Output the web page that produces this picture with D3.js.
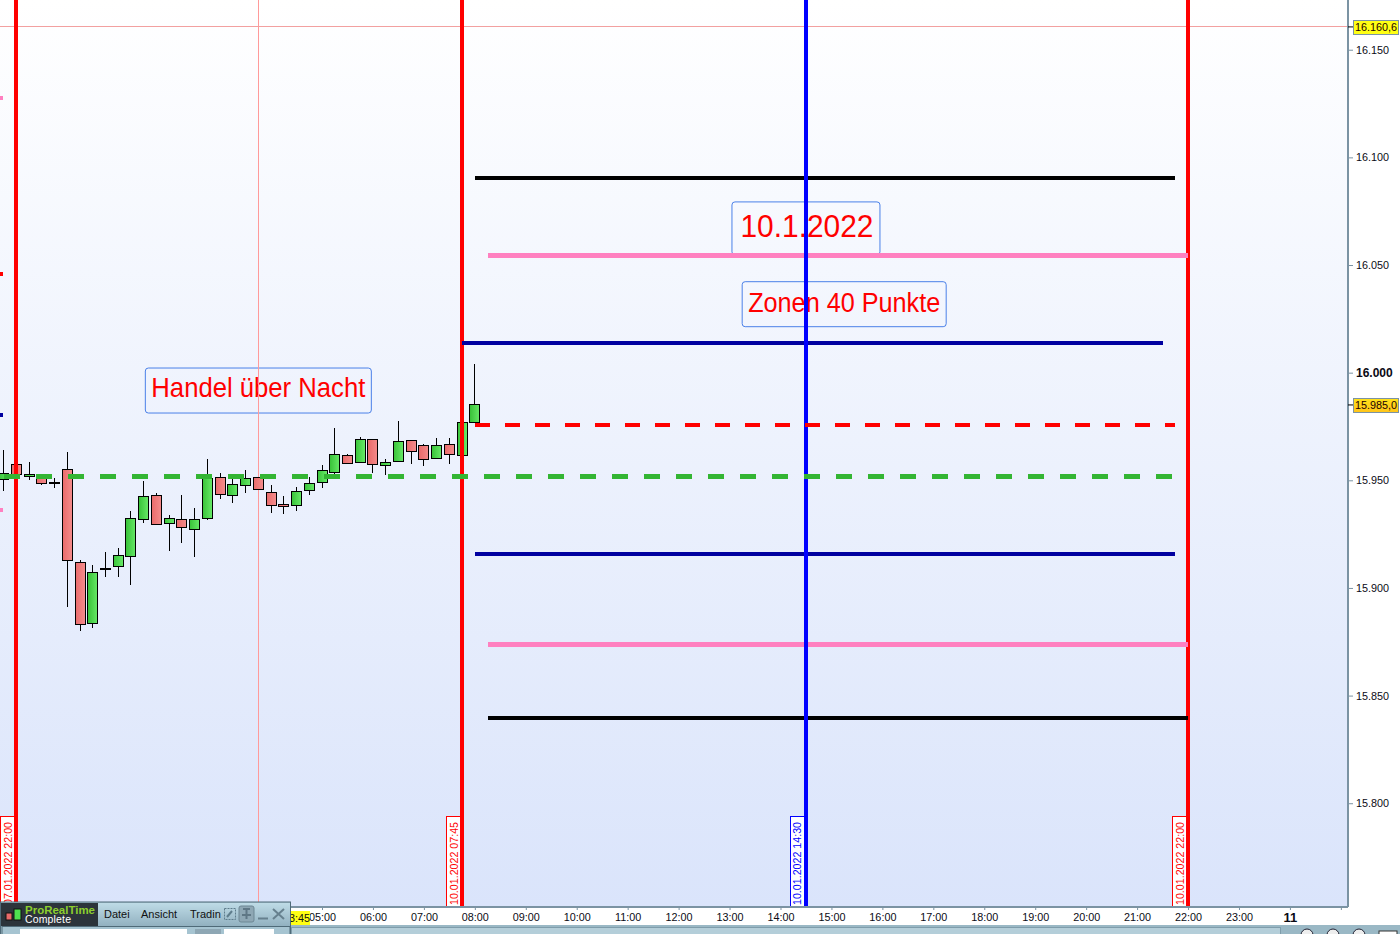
<!DOCTYPE html>
<html><head><meta charset="utf-8">
<script src="https://cdnjs.cloudflare.com/ajax/libs/d3/7.8.5/d3.min.js"></script>
<style>html,body{margin:0;padding:0;background:#fff;overflow:hidden}svg{display:block;font-family:"Liberation Sans",Arial,sans-serif}</style>
</head><body><svg id="c" width="1400" height="934"></svg>
<script>
// Candle times, in hours relative to 10.01.2022 00:00 (15-minute bars)
const hours = [-1.25,-1,-0.75,-0.5,-0.25,0,0.25,0.5,0.75,1,1.25,1.5,1.75,2,2.25,2.5,2.75,3,3.25,3.5,3.75,4,4.25,4.5,4.75,5,5.25,5.5,5.75,6,6.25,6.5,6.75,7,7.25,7.5,7.75,8];
const opens  = [15950.5,15957.5,15951.7,15951.6,15948.9,15955.1,15911.9,15883.6,15908.9,15910.1,15914.7,15931.9,15943.1,15929.9,15931.9,15927.3,15932.4,15951.4,15943.1,15947.7,15951.4,15944.4,15938.9,15938.4,15945.4,15949.1,15953.7,15961.6,15958.4,15969.1,15957,15958.8,15968.6,15966.3,15960.2,15966.7,15961.6,15977];
const closes = [15953.3,15952.6,15952.8,15948.4,15948.7,15912.9,15883.1,15907.3,15908.7,15915.2,15932.4,15942.6,15929.4,15932.4,15928.2,15931.9,15950.9,15943.5,15948.2,15950.9,15945.8,15938.4,15937.8,15944.9,15948.6,15954.7,15962.1,15957.9,15969.1,15957.5,15958.4,15968.1,15963.5,15959.8,15966.3,15962.1,15977,15985];
const highs  = [15964.1,15957.5,15958.5,15951.6,15951.1,15963,15912.9,15910.7,15916.7,15918.6,15935.8,15949.7,15944,15933.9,15943.2,15937,15959.9,15953.4,15950.6,15954.7,15951.4,15947.8,15942.7,15946.9,15951.6,15957,15974.3,15962.2,15970,15969.1,15959.8,15977.6,15968.6,15966.7,15969.5,15969.5,15977,16004];
const lows   = [15945.2,15952.6,15950.2,15947.8,15946.4,15891.3,15880.2,15881.6,15905.1,15905.1,15901.4,15930.3,15929.1,15917.3,15921,15914.5,15931.7,15941.5,15939.6,15944.3,15945.8,15935,15934.5,15935.9,15943.3,15946.6,15952.8,15957.9,15958.4,15953.6,15952.6,15958.8,15957.7,15956.8,15960.2,15957.7,15961.6,15977];

// Solid horizontal zones: price, from hour, to hour
const zonePrices = [16090.4,16054.6,16013.8,15915.8,15873.8,15839.4];
const zoneStart  = [8,8.25,7.75,8,8.25,8.25];
const zoneEnd    = [21.75,22,21.5,21.75,22,22];
const zoneColors = ["#000000","#ff80c0","#0000a0","#0000a0","#ff80c0","#000000"];
const zoneWidths = [4,5,4,4,5,4];
// Dashed horizontal levels
const levelPrices = [15975.7,15951.7];
const levelStart  = [8,-1.25];
const levelEnd    = [21.75,22];
const levelColors = ["#ff0000","#33b533"];
const levelWidths = [4,5];
const levelDashes = ["15 15","16 16"];

// Vertical session lines
const vHours  = [-1,7.75,14.5,22];
const vColors = ["#ff0000","#ff0000","#0000ff","#ff0000"];
const vLabels = ["07.01.2022 22:00","10.01.2022 07:45","10.01.2022 14:30","10.01.2022 22:00"];

// Annotations
const noteTexts = ["Handel über Nacht","10.1.2022","Zonen 40 Punkte"];
const noteHours = [3.75,14.5,15.25];
const notePrices= [15991.7,16067,16031.8];

// Axis values
const priceTicks = [16150,16100,16050,16000,15950,15900,15850,15800];
const timeTicks = [5,6,7,8,9,10,11,12,13,14,15,16,17,18,19,20,21,22,23,24,25];
const timeLabels = ["05:00","06:00","07:00","08:00","09:00","10:00","11:00","12:00","13:00","14:00","15:00","16:00","17:00","18:00","19:00","20:00","21:00","22:00","23:00","11",""];
const crossHour = 3.75, crossPrice = 16160.6, lastPrice = 15985;
const edgePrices = [16127.6,16045.8,15980.4,15936];
const edgeColors = ["#ff80c0","#ff0000","#0000a0","#ff80c0"];

const svg = d3.select("#c");
const plotW = 1348, plotH = 907;
const x = d3.scaleLinear().domain([-1.321,25.14]).range([0,plotW]);
const y = d3.scaleLinear().domain([16173.1,15751.8]).range([0,plotH]);
const defs = svg.append("defs");
function grad(id,x2,y2,stops){
  const g = defs.append("linearGradient").attr("id",id).attr("x1",0).attr("y1",0).attr("x2",x2).attr("y2",y2);
  stops.forEach((c,i)=>g.append("stop").attr("offset",i/(stops.length-1)).attr("stop-color",c));
}
grad("bg",0,1,["#ffffff","#dae4fb"]);
grad("up",1,0,["#38c238","#68ea68"]);
grad("down",1,0,["#e96a6a","#f48c8c"]);
grad("gold",0,1,["#ffe21a","#ffc41a"]);
grad("menu",0,1,["#bedbe6","#92b1c0"]);
defs.append("clipPath").attr("id","plot").append("rect").attr("width",plotW).attr("height",plotH);

svg.append("rect").attr("width",plotW).attr("height",plotH).attr("fill","url(#bg)");
const plot = svg.append("g").attr("clip-path","url(#plot)");

// annotation boxes: width, height, font size, text width, baseline offset
const noteSizes = [[226,45,27.5,214,6.6],[148,53,31,133,8.6],[204,45,27.5,192,7.4]];
const notes = plot.append("g");
noteTexts.forEach((t,i)=>{
  const [w,h,f,tw,off]=noteSizes[i];
  const cx=x(noteHours[i]), cy=y(notePrices[i]);
  notes.append("rect").attr("x",cx-w/2).attr("y",cy-h/2).attr("width",w).attr("height",h).attr("rx",3)
    .attr("fill","none").attr("stroke","#4a80e8").attr("stroke-width",1);
  notes.append("text").attr("x",cx+[0,1,0][i]).attr("y",cy+off).attr("text-anchor","middle").attr("font-size",f)
    .attr("textLength",tw).attr("lengthAdjust","spacingAndGlyphs").attr("fill","#ff0000").text(t);
});

// crosshair
plot.append("line").attr("x1",x(crossHour)).attr("x2",x(crossHour)).attr("y1",0).attr("y2",plotH).attr("stroke","#ff9a9a").attr("stroke-width",1).attr("shape-rendering","crispEdges");
plot.append("line").attr("x1",0).attr("x2",plotW).attr("y1",y(crossPrice)).attr("y2",y(crossPrice)).attr("stroke","#f2a0a0").attr("stroke-width",1).attr("shape-rendering","crispEdges");

// candles
const bw = 10;
const cg = plot.append("g").attr("shape-rendering","crispEdges");
const idx = d3.range(hours.length);
cg.selectAll("line.w").data(idx).join("line").attr("class","w")
  .attr("x1",i=>x(hours[i])).attr("x2",i=>x(hours[i])).attr("y1",i=>y(highs[i])).attr("y2",i=>y(lows[i]))
  .attr("stroke","#000").attr("stroke-width",1);
cg.selectAll("rect").data(idx).join("rect")
  .attr("x",i=>x(hours[i])-bw/2)
  .attr("y",i=>y(Math.max(opens[i],closes[i])))
  .attr("width",bw)
  .attr("height",i=>Math.abs(y(opens[i])-y(closes[i])))
  .attr("fill",i=>closes[i]>=opens[i]?"url(#up)":"url(#down)")
  .attr("stroke","#000").attr("stroke-width",1);

// vertical lines and date boxes
const vline = (sel,keep)=>sel.append("g").attr("shape-rendering","crispEdges").selectAll("line").data(vHours.filter((d,i)=>keep(vColors[i]))).join("line")
  .attr("x1",d=>x(d)).attr("x2",d=>x(d)).attr("y1",0).attr("y2",plotH)
  .attr("stroke",d=>vColors[vHours.indexOf(d)]).attr("stroke-width",4);
vline(plot,c=>c==="#ff0000");

// zones
plot.append("g").attr("shape-rendering","crispEdges").selectAll("line").data(zonePrices).join("line")
  .attr("x1",(d,i)=>x(zoneStart[i])).attr("x2",(d,i)=>x(zoneEnd[i]))
  .attr("y1",d=>y(d)).attr("y2",d=>y(d))
  .attr("stroke",(d,i)=>zoneColors[i]).attr("stroke-width",(d,i)=>zoneWidths[i]);

vline(plot,c=>c==="#0000ff");

// dashed levels
plot.append("g").attr("shape-rendering","crispEdges").selectAll("line").data(levelPrices).join("line")
  .attr("x1",(d,i)=>x(levelStart[i])).attr("x2",(d,i)=>x(levelEnd[i]))
  .attr("y1",d=>y(d)).attr("y2",d=>y(d))
  .attr("stroke",(d,i)=>levelColors[i]).attr("stroke-width",(d,i)=>levelWidths[i])
  .attr("stroke-dasharray",(d,i)=>levelDashes[i]);

vHours.forEach((h,i)=>{
  const cx=x(h)-9;
  plot.append("rect").attr("x",Math.round(cx-7)+0.5).attr("y",816.5).attr("width",14).attr("height",91).attr("fill","#fff").attr("stroke",vColors[i]);
  plot.append("text").attr("transform",`translate(${cx+4.5},905) rotate(-90)`).attr("font-size",11)
    .attr("textLength",83).attr("lengthAdjust","spacingAndGlyphs").attr("fill",vColors[i]).text(vLabels[i]);
});

// edge ticks
plot.append("g").attr("shape-rendering","crispEdges").selectAll("rect").data(edgePrices).join("rect")
  .attr("x",0).attr("width",3).attr("y",d=>y(d)-2).attr("height",4).attr("fill",(d,i)=>edgeColors[i]);

// axes
const slate="#7b93a3";
const ay = svg.append("g").attr("transform",`translate(${plotW},0)`)
  .call(d3.axisRight(y).tickValues(priceTicks).tickSize(5).tickPadding(3).tickFormat(d=>d3.format(",")(d).replace(",",".")));
ay.select(".domain").attr("stroke",slate).attr("stroke-width",2).attr("d",`M0,0V${plotH}`);
ay.selectAll(".tick line").attr("stroke",slate);
ay.selectAll(".tick text").attr("font-size",d=>d===16000?12:10.8).attr("font-weight",d=>d===16000?"bold":"normal").attr("fill","#0a0a14").attr("font-family","Liberation Sans");
const ax = svg.append("g").attr("transform",`translate(0,${plotH})`)
  .call(d3.axisBottom(x).tickValues(timeTicks).tickSize(3).tickPadding(3).tickFormat((d,i)=>timeLabels[i]));
ax.select(".domain").attr("stroke",slate).attr("stroke-width",2).attr("d",`M0,0H${plotW}`);
ax.selectAll(".tick line").attr("stroke",slate);
ax.selectAll(".tick text").attr("font-size",d=>d===24?13:10.8).attr("font-weight",d=>d===24?"bold":"normal").attr("fill","#0a0a14").attr("font-family","Liberation Sans");

// price flags
function flag(p,fill){
  const yy=y(p);
  svg.append("line").attr("x1",plotW).attr("x2",plotW+5).attr("y1",yy).attr("y2",yy).attr("stroke","#000");
  svg.append("rect").attr("x",1353.5).attr("y",Math.round(yy-7)+0.5).attr("width",45).attr("height",14).attr("fill",fill).attr("stroke",slate);
  svg.append("text").attr("x",1376).attr("y",yy+4).attr("text-anchor","middle").attr("font-size",10.8).attr("fill","#200").text(d3.format(",.1f")(p).replace(",",".").replace(/\.(\d)$/,",$1"));
}
flag(crossPrice,"#ffff14");
flag(lastPrice,"url(#gold)");

// time flag of the crosshair
svg.append("rect").attr("x",290).attr("y",911).attr("width",20).attr("height",14).attr("fill","#ffff14");
svg.append("text").attr("x",310).attr("y",922).attr("text-anchor","end").attr("font-size",10.8).attr("fill","#111").text("03:45");

// bottom toolbar
svg.append("rect").attr("x",0).attr("y",925).attr("width",1400).attr("height",9).attr("fill","#9ab8c5");
svg.append("rect").attr("x",291.5).attr("y",927.5).attr("width",989).attr("height",7).attr("fill","#b4ced9").attr("stroke","#7f9dab");
[1307,1333,1359].forEach(c=>svg.append("circle").attr("cx",c).attr("cy",935).attr("r",6).attr("fill","#eee").attr("stroke","#223"));
svg.append("rect").attr("x",1379).attr("y",931).attr("width",18).attr("height",5).attr("fill","#fff").attr("stroke","#333");

// window overlay
const win = svg.append("g");
win.append("rect").attr("x",0.5).attr("y",902).attr("width",290).attr("height",33).attr("fill","#a6c4d1").attr("stroke","#4f6a78");
win.append("rect").attr("x",1).attr("y",903).attr("width",289).attr("height",23).attr("fill","url(#menu)");
win.append("rect").attr("x",1).attr("y",903).attr("width",97).attr("height",23).attr("fill","#2c343b");
win.append("rect").attr("x",6).attr("y",913).attr("width",6).attr("height",7).attr("fill","#e86a6a").attr("stroke","#111");
win.append("rect").attr("x",14).attr("y",909).attr("width",7).attr("height",11).attr("fill","#4fe04f").attr("stroke","#111");
win.append("text").attr("x",25).attr("y",913.5).attr("font-size",11.5).attr("fill","#8ccf2e").attr("font-weight","bold").attr("textLength",70).attr("lengthAdjust","spacingAndGlyphs").text("ProRealTime");
win.append("text").attr("x",25).attr("y",923).attr("font-size",10.5).attr("fill","#fff").attr("textLength",46).text("Complete");
[["Datei",104],["Ansicht",141],["Tradin",190]].forEach(([t,px])=>win.append("text").attr("x",px).attr("y",918).attr("font-size",11).attr("fill","#111").text(t));
win.append("rect").attr("x",224.5).attr("y",908.5).attr("width",11).attr("height",11).attr("fill","none").attr("stroke","#5f7d8c").attr("stroke-dasharray","2 1");
win.append("path").attr("d","M227,917L232,911").attr("stroke","#5f7d8c").attr("stroke-width",2);
win.append("rect").attr("x",239).attr("y",906).attr("width",15).attr("height",16).attr("rx",2).attr("fill","#8ea7b4").attr("stroke","#6d8794");
win.append("path").attr("d","M243,909H250M246.5,909V919M242,915H251").attr("stroke","#5f7785").attr("stroke-width",2);
win.append("rect").attr("x",258).attr("y",917.5).attr("width",10).attr("height",2).attr("fill","#66808e");
win.append("path").attr("d","M273,909L284,919M284,909L273,919").attr("stroke","#66808e").attr("stroke-width",2);
win.append("rect").attr("x",2).attr("y",926.5).attr("width",288).attr("height",8).attr("fill","#a6c4d1").attr("stroke","#4f6a78");
win.append("rect").attr("x",20).attr("y",929).attr("width",167).attr("height",6).attr("fill","#fff");
win.append("rect").attr("x",195).attr("y",929).attr("width",26).attr("height",6).attr("fill","#8ea7b4");
win.append("rect").attr("x",224).attr("y",929).attr("width",50).attr("height",6).attr("fill","#fff");
</script></body></html>
